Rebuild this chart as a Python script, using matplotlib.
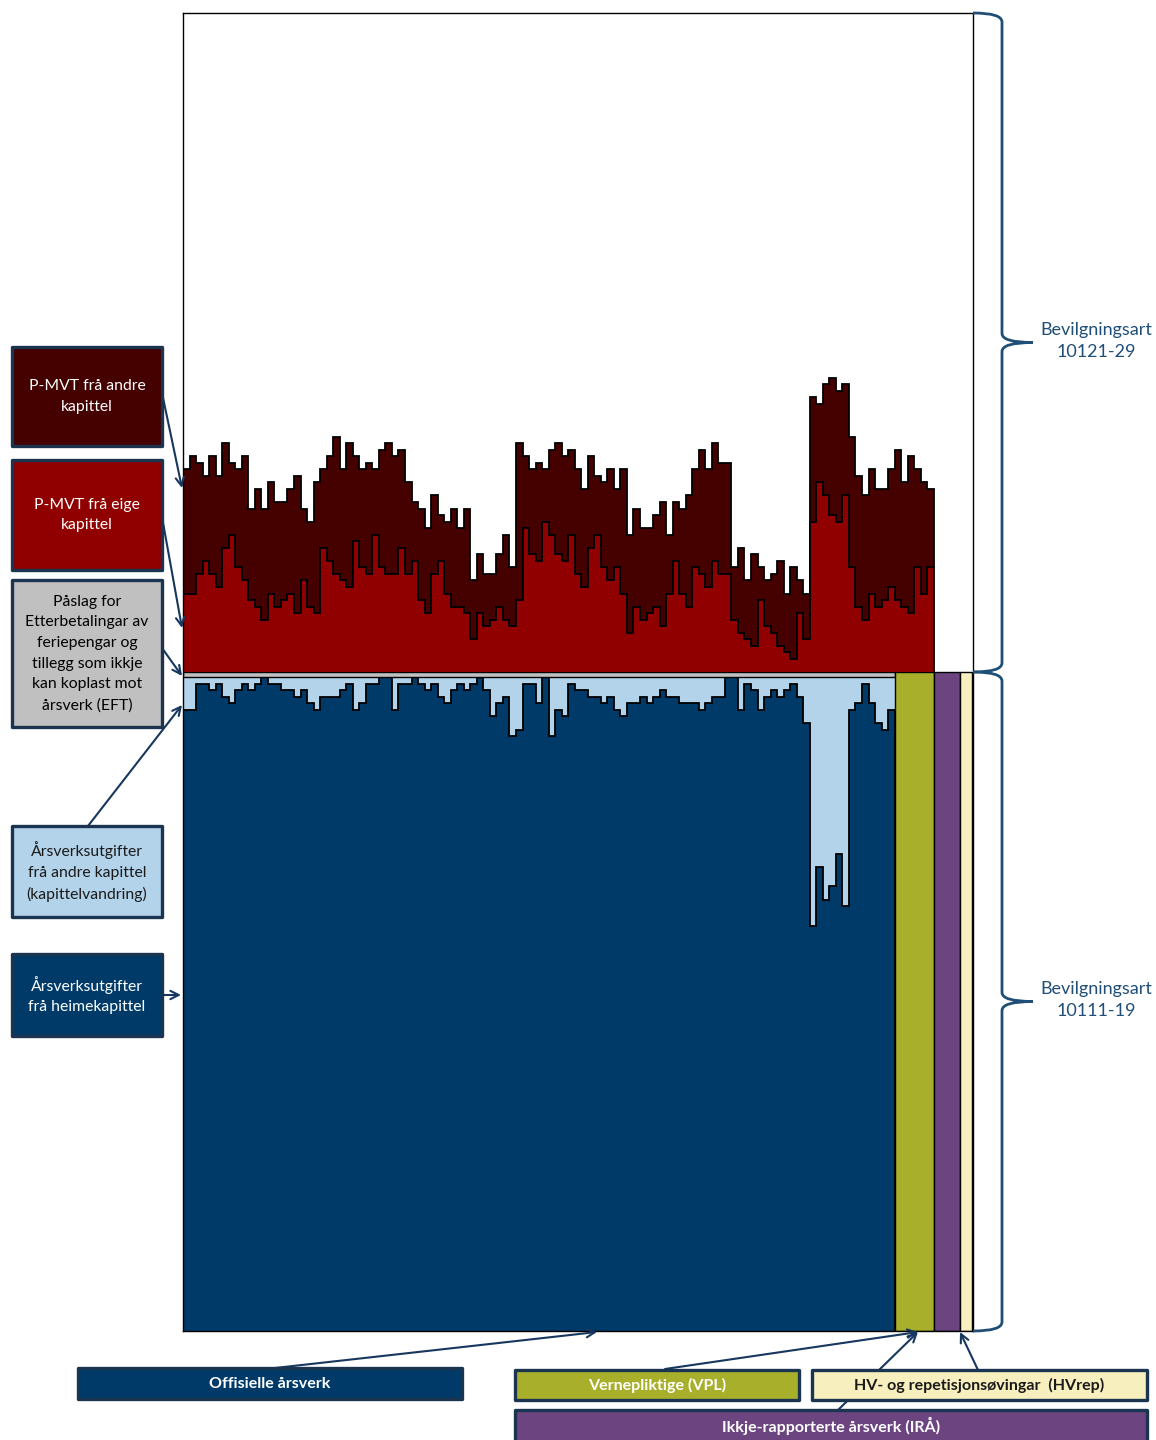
import numpy as np
import matplotlib
matplotlib.use("Agg")
import matplotlib.pyplot as plt
from matplotlib.patches import Rectangle, PathPatch
from matplotlib.path import Path

plt.rcParams["font.family"] = ["Lato", "DejaVu Sans"]

# Upper part (Bevilgningsart 10121-29), one value per column, 115 columns
pmvt_eige = [12, 12, 15, 17, 15, 13, 19, 21, 16, 14, 11, 10, 8, 12, 10, 11, 12, 9, 14, 10,
             9, 19, 17, 15, 14, 13, 20, 16, 15, 21, 16, 15, 15, 19, 15, 17, 11, 9, 15, 17,
             12, 10, 10, 9, 5, 9, 7, 8, 10, 8, 7, 11, 22, 18, 17, 23, 21, 18, 17, 21,
             15, 13, 19, 21, 16, 14, 16, 12, 6, 10, 8, 9, 10, 7, 12, 17, 12, 10, 16, 15,
             13, 17, 15, 15, 8, 6, 5, 4, 11, 7, 6, 4, 3, 2, 9, 5, 23, 29, 27, 24,
             23, 27, 16, 10, 8, 12, 10, 11, 13, 11, 10, 9, 16, 12, 16]
pmvt_andre = [19, 21, 17, 13, 18, 17, 16, 11, 15, 19, 14, 18, 17, 17, 16, 15, 16, 21, 11, 13,
              20, 12, 16, 21, 17, 22, 13, 15, 17, 10, 18, 20, 18, 15, 14, 9, 14, 13, 12, 7,
              11, 15, 12, 16, 9, 9, 8, 7, 8, 13, 9, 24, 11, 13, 15, 8, 13, 17, 16, 13,
              16, 15, 14, 9, 13, 17, 12, 19, 15, 15, 14, 13, 14, 19, 9, 9, 13, 17, 15, 19,
              18, 18, 17, 17, 8, 13, 9, 14, 5, 7, 9, 13, 9, 14, 5, 7, 19, 12, 17, 21,
              20, 17, 20, 20, 19, 19, 18, 17, 18, 23, 19, 24, 15, 17, 12]

# Lower part (Bevilgningsart 10111-19), 109 columns
heime = [95, 95, 99, 99, 98, 99, 97, 96, 98, 99, 98, 99, 100, 99, 99, 98, 98, 97, 98, 96,
         95, 97, 97, 97, 98, 99, 95, 96, 99, 99, 100, 100, 95, 99, 99, 100, 99, 98, 99, 97,
         96, 98, 99, 98, 99, 100, 98, 94, 96, 97, 91, 92, 99, 99, 96, 100, 91, 95, 94, 99,
         98, 98, 97, 97, 96, 97, 95, 94, 96, 96, 97, 96, 97, 98, 97, 97, 96, 96, 96, 95,
         96, 97, 97, 100, 100, 95, 99, 98, 95, 97, 98, 97, 98, 99, 97, 93, 62, 71, 66, 68,
         73, 65, 95, 96, 99, 96, 93, 92, 95]
kapvandring = [5, 5, 1, 1, 2, 1, 3, 4, 2, 1, 2, 1, 0, 1, 1, 2, 2, 3, 2, 4,
               5, 3, 3, 3, 2, 1, 5, 4, 1, 1, 0, 0, 5, 1, 1, 0, 1, 2, 1, 3,
               4, 2, 1, 2, 1, 0, 2, 6, 4, 3, 9, 8, 1, 1, 4, 0, 9, 5, 6, 1,
               2, 2, 3, 3, 4, 3, 5, 6, 4, 4, 3, 4, 3, 2, 3, 3, 4, 4, 4, 5,
               4, 3, 3, 0, 0, 5, 1, 2, 5, 3, 2, 3, 2, 1, 3, 7, 38, 29, 34, 32,
               27, 35, 5, 4, 1, 4, 7, 8, 5]
eft = 0.8

# Extra groups to the right (width = size)
extra_names = ["VPL", "IRÅ", "HVrep"]
extra_widths = [6, 4, 1.9]

c_maroon = "#450000"
c_red = "#900000"
c_gray = "#c0c0c0"
c_lblue = "#b3d3ea"
c_dblue = "#003a68"
c_olive = "#a8b02b"
c_purple = "#6c4580"
c_cream = "#f7efbe"
c_navy = "#17375e"
c_txt = "#1f4e79"

fig = plt.figure(figsize=(11.56, 14.4), dpi=100)
ax = fig.add_axes([183 / 1156, 109 / 1440, 790 / 1156, 1318 / 1440])

n_low = len(heime)
n_up = len(pmvt_eige)
edges_low = np.arange(n_low + 1)
edges_up = np.arange(n_up + 1)

heime = np.array(heime, float)
kap = np.array(kapvandring, float)
total_low = heime + kap
ax.stairs(total_low, edges_low, baseline=heime, fill=True, facecolor=c_lblue, edgecolor="none")
ax.stairs(heime, edges_low, baseline=0, fill=True, facecolor=c_dblue, edgecolor="black", linewidth=1.3)
ax.bar(0, eft, bottom=total_low.max(), width=n_low, align="edge", color=c_gray, edgecolor="black", linewidth=1)

base = total_low.max() + eft
lefts = n_low + np.concatenate([[0], np.cumsum(extra_widths)[:-1]])
ax.bar(lefts, base, width=extra_widths, align="edge", color=[c_olive, c_purple, c_cream],
       edgecolor="black", linewidth=1)

eige = base + np.array(pmvt_eige, float)
andre = eige + np.array(pmvt_andre, float)
ax.stairs(andre, edges_up, baseline=eige, fill=True, facecolor=c_maroon, edgecolor="black", linewidth=1.3)
ax.stairs(eige, edges_up, baseline=base, fill=True, facecolor=c_red, edgecolor="black", linewidth=1.3)

ax.set_xlim(0, 121)
ax.set_ylim(0, 2 * base)
ax.set_xticks([])
ax.set_yticks([])
for s in ax.spines.values():
    s.set_linewidth(1)
    s.set_color("black")

# overlay in pixel coordinates for annotations
ov = fig.add_axes([0, 0, 1, 1], zorder=5)
ov.set_xlim(0, 1156)
ov.set_ylim(1440, 0)
ov.axis("off")
ov.patch.set_alpha(0)


def arrow(x0, y0, x1, y1, z=2):
    ov.annotate("", xy=(x1, y1), xytext=(x0, y0),
                arrowprops=dict(arrowstyle="->", color=c_navy, lw=1.5, shrinkA=0, shrinkB=0,
                                mutation_scale=15), zorder=z)


def box(x0, y0, x1, y1, fc, text, tc, size=11.3, bold=False, ls=1.6):
    ov.add_patch(Rectangle((x0, y0), x1 - x0, y1 - y0, facecolor=fc, edgecolor="#1b3550",
                           linewidth=2.4, zorder=4, joinstyle="round"))
    ov.text((x0 + x1) / 2, (y0 + y1) / 2, text, color=tc, ha="center", va="center",
            fontsize=size, fontweight="bold" if bold else "normal", linespacing=ls, zorder=5)


arrow(162, 393, 182, 488)
arrow(162, 517, 182, 628)
arrow(162, 648, 182, 676)
arrow(88, 826, 182, 705)
arrow(162, 995, 181, 995)
arrow(275, 1368, 597, 1332)
arrow(665, 1369, 918, 1332)
arrow(838, 1410, 918, 1332)
arrow(978, 1370, 960, 1332)

box(12, 347, 162, 446, c_maroon, "P-MVT frå andre\nkapittel", "white")
box(12, 460, 162, 570, c_red, "P-MVT frå eige\nkapittel", "white")
box(12, 580, 162, 727, c_gray,
    "Påslag for\nEtterbetalingar av\nferiepengar og\ntillegg som ikkje\nkan koplast mot\nårsverk (EFT)",
    "black")
box(12, 826, 162, 917, c_lblue, "Årsverksutgifter\nfrå andre kapittel\n(kapittelvandring)", "#1a1a1a")
box(12, 954, 162, 1036, c_dblue, "Årsverksutgifter\nfrå heimekapittel", "white")

box(78, 1368, 462, 1399, c_dblue, "Offisielle årsverk", "white", size=11.5, bold=True)
box(515, 1370, 799, 1400, c_olive, "Vernepliktige (VPL)", "white", size=11.5, bold=True)
box(812, 1370, 1147, 1400, c_cream, "HV- og repetisjonsøvingar  (HVrep)", "#1a1a1a", size=11.5, bold=True)
box(515, 1410, 1147, 1446, c_purple, "", "white")
ov.text(831, 1426, "Ikkje-rapporterte årsverk (IRÅ)", color="white", ha="center", va="center",
        fontsize=11.5, fontweight="bold", zorder=6)


def brace(y0, y1, xl=973, xv=1002, xt=1033):
    ym = (y0 + y1) / 2
    verts = [(xl, y0), (xv, y0), (xv, y0 + 9), (xv, ym - 9), (xv, ym), (xt, ym),
             (xv, ym), (xv, ym + 9), (xv, y1 - 9), (xv, y1), (xl, y1)]
    codes = [Path.MOVETO, Path.CURVE3, Path.CURVE3, Path.LINETO, Path.CURVE3, Path.CURVE3,
             Path.CURVE3, Path.CURVE3, Path.LINETO, Path.CURVE3, Path.CURVE3]
    ov.add_patch(PathPatch(Path(verts, codes), facecolor="none", edgecolor=c_txt, lw=2, zorder=3))


brace(13, 672)
brace(672, 1331)
ov.text(1096, 341, "Bevilgningsart\n10121-29", color=c_txt, ha="center", va="center", fontsize=13,
        linespacing=1.5)
ov.text(1096, 1000, "Bevilgningsart\n10111-19", color=c_txt, ha="center", va="center", fontsize=13,
        linespacing=1.5)

fig.savefig("out.png", dpi=100)
